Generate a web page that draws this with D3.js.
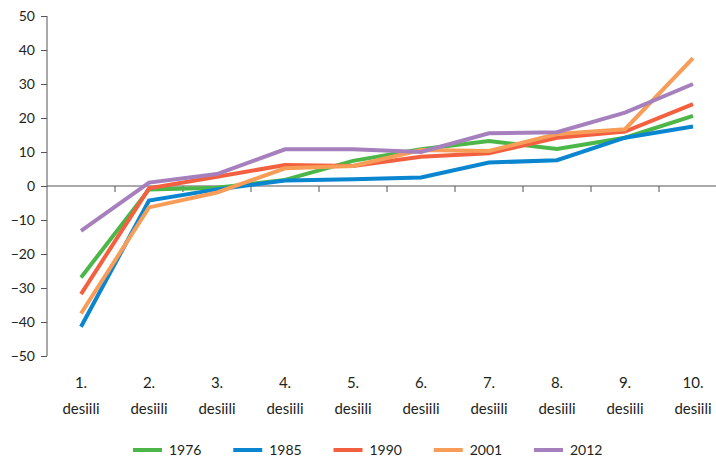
<!DOCTYPE html>
<html><head><meta charset="utf-8">
<script src="https://cdn.jsdelivr.net/npm/d3@7"></script>
<style>body{margin:0;background:#fff}svg{display:block}text{font-family:Lato,"Open Sans",sans-serif;fill:#231f20}</style>
</head><body><svg id="c" width="716" height="460"></svg>
<script>
const categories = ["1.","2.","3.","4.","5.","6.","7.","8.","9.","10."];
const categorySub = "desiili";
const yTicks = [50,40,30,20,10,0,-10,-20,-30,-40,-50];
const seriesNames = ["1976","1985","1990","2001","2012"];
const colors = ["#4cb748","#0a85cf","#f3603f","#f89d57","#a680bd"];
const s1976 = [-26.9,-1.0,-0.5,1.8,7.4,10.8,13.2,10.9,14.2,20.6];
const s1985 = [-41.4,-4.3,-1.0,1.6,2.0,2.5,6.9,7.6,14.2,17.5];
const s1990 = [-31.8,-0.7,2.7,6.2,5.9,8.6,9.6,14.2,16.0,24.1];
const s2001 = [-37.5,-6.3,-1.9,5.2,5.9,10.6,10.3,15.3,16.7,37.6];
const s2012 = [-13.2,1.0,3.5,10.8,10.8,10.0,15.5,15.8,21.6,30.0];
const series = [s1976,s1985,s1990,s2001,s2012];

const svg = d3.select("#c");
const x = d3.scaleBand().domain(categories).range([47,727]);
const y = d3.scaleLinear().domain([-50,50]).range([356,16]);

// y axis
const ya = svg.append("g").attr("transform","translate(47,0)")
  .call(d3.axisLeft(y).tickValues(yTicks).tickSize(6).tickPadding(6).tickFormat(d3.format("d")));
ya.select(".domain").attr("stroke","#555").attr("d","M0,"+y(50)+"V"+y(-50));
ya.selectAll(".tick line").attr("stroke","#555");
ya.selectAll("text").style("font-size","14px").attr("fill","#231f20");

// zero line with ticks at boundaries
const xa = svg.append("g").attr("transform","translate(0,"+y(0)+")");
xa.append("line").attr("x1",47).attr("x2",716).attr("stroke","#555").attr("stroke-width",1);
categories.slice(1).forEach(c=>{
  xa.append("line").attr("x1",x(c)).attr("x2",x(c)).attr("y1",0).attr("y2",6).attr("stroke","#555");
});

// category labels
categories.forEach(c=>{
  const cx = x(c)+x.bandwidth()/2;
  const t = svg.append("text").attr("x",cx).attr("text-anchor","middle").style("font-size","15px");
  t.append("tspan").attr("x",cx).attr("y",388).text(c);
  t.append("tspan").attr("x",cx).attr("y",414).text(categorySub);
});

// lines
const line = d3.line().x((d,i)=>x(categories[i])+x.bandwidth()/2).y(d=>y(d));
series.forEach((s,i)=>{
  svg.append("path").datum(s).attr("d",line).attr("fill","none")
    .attr("stroke",colors[i]).attr("stroke-width",4).attr("stroke-linejoin","miter");
});

// legend
const lx = d3.scalePoint().domain(seriesNames).range([133,534]);
seriesNames.forEach((n,i)=>{
  const g = svg.append("g").attr("transform","translate("+lx(n)+",450)");
  g.append("line").attr("x1",0).attr("x2",29).attr("stroke",colors[i]).attr("stroke-width",4);
  g.append("text").attr("x",36).attr("y",5).style("font-size","14px").text(n);
});
</script></body></html>
